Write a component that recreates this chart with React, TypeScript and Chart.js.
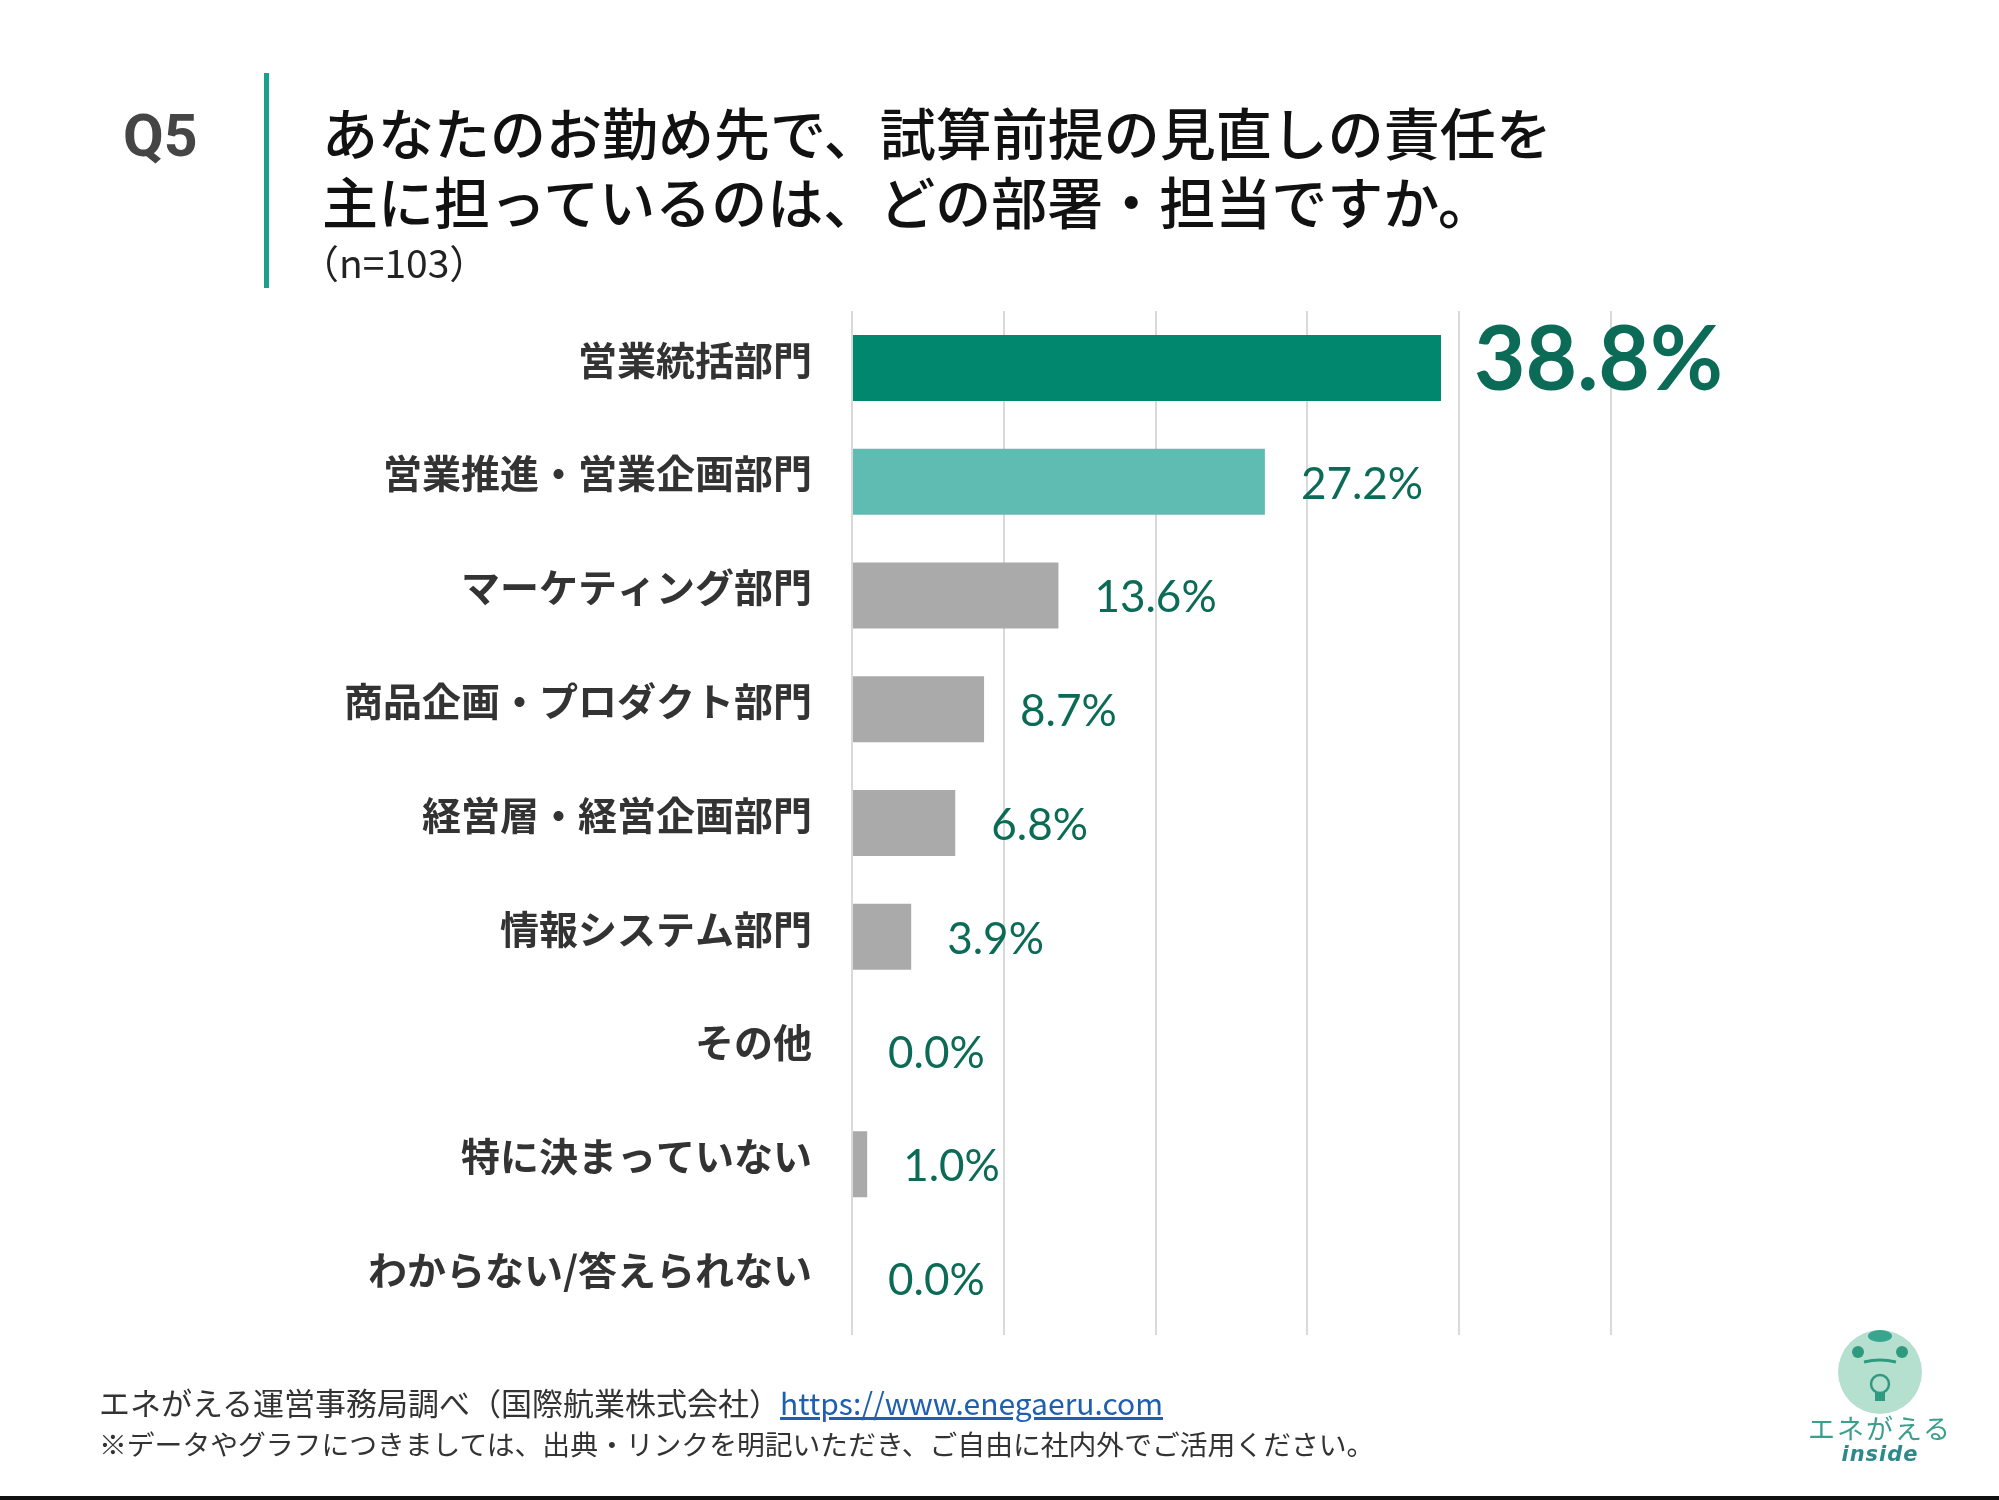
import React, { useEffect, useRef } from "react";
import { Chart, registerables } from "chart.js";

Chart.register(...registerables);

const categories = [
  "営業統括部門",
  "営業推進・営業企画部門",
  "マーケティング部門",
  "商品企画・プロダクト部門",
  "経営層・経営企画部門",
  "情報システム部門",
  "その他",
  "特に決まっていない",
  "わからない/答えられない",
];
const shares = [38.8, 27.2, 13.6, 8.7, 6.8, 3.9, 0.0, 1.0, 0.0];
const barColors = [
  "#02876f",
  "#5fbcb2",
  "#aaaaaa",
  "#aaaaaa",
  "#aaaaaa",
  "#aaaaaa",
  "#aaaaaa",
  "#aaaaaa",
  "#aaaaaa",
];
const axisMax = 50;
const axisStep = 10;

const titleLines = [
  "あなたのお勤め先で、試算前提の見直しの責任を",
  "主に担っているのは、どの部署・担当ですか。",
];
const sampleNote = "（n=103）";
const sourceText = "エネがえる運営事務局調べ（国際航業株式会社）";
const sourceUrl = "https://www.enegaeru.com";
const usageNote =
  "※データやグラフにつきましては、出典・リンクを明記いただき、ご自由に社内外でご活用ください。";

const W = 1999;
const H = 1500;
const CJK = '"Noto Sans CJK JP", "Noto Sans", sans-serif';
const VALUE_COLOR = "#0c6b56";

// percentage labels to the right of each bar; the first one is emphasised
const valueLabels = {
  id: "valueLabels",
  afterDatasetsDraw(chart: any) {
    const ctx = chart.ctx;
    const meta = chart.getDatasetMeta(0);
    ctx.save();
    ctx.fillStyle = VALUE_COLOR;
    ctx.textAlign = "left";
    ctx.textBaseline = "alphabetic";
    meta.data.forEach((bar: any, i: number) => {
      const text = shares[i].toFixed(1) + "%";
      if (i === 0) {
        ctx.font = 'bold 89px Lato, "Noto Sans", sans-serif';
        ctx.fillText(text, bar.x + 33, bar.y + 22);
      } else {
        ctx.font = '44px Lato, "Noto Sans", sans-serif';
        ctx.fillText(text, bar.x + 36, bar.y + 17);
      }
    });
    ctx.restore();
  },
};

function BarChart() {
  const ref = useRef<HTMLCanvasElement>(null);
  useEffect(() => {
    if (!ref.current) return;
    const chart = new Chart(ref.current, {
      type: "bar",
      data: {
        labels: categories,
        datasets: [
          {
            data: shares,
            backgroundColor: barColors,
            borderWidth: 0,
            barPercentage: 0.58,
            categoryPercentage: 1,
          },
        ],
      },
      options: {
        indexAxis: "y",
        animation: false,
        responsive: false,
        maintainAspectRatio: false,
        layout: { padding: { left: 0, top: 311, right: 388, bottom: 165 } },
        plugins: {
          legend: { display: false },
          tooltip: { enabled: false },
        },
        scales: {
          x: {
            min: 0,
            max: axisMax,
            ticks: { display: false, stepSize: axisStep },
            grid: { color: "#d9d9d9", lineWidth: 2, drawTicks: false },
            border: { display: false },
          },
          y: {
            afterFit(scale: any) {
              scale.width = 852;
            },
            ticks: {
              padding: 40,
              labelOffset: -8,
              color: "#333333",
              font: { family: CJK, size: 39, weight: "bold" },
            },
            grid: { display: false, drawTicks: false },
            border: { display: false },
          },
        },
      },
      plugins: [valueLabels],
    });
    return () => chart.destroy();
  }, []);
  return (
    <canvas
      ref={ref}
      width={W}
      height={H}
      style={{ position: "absolute", left: 0, top: 0, width: W, height: H }}
    />
  );
}

function Logo() {
  return (
    <div style={{ position: "absolute", left: 1800, top: 1322, width: 160, height: 150 }}>
      <svg width="160" height="100" viewBox="0 0 160 100" style={{ position: "absolute", left: 0, top: 0 }}>
        <circle cx="80" cy="50" r="42" fill="#b5e0d0" />
        <ellipse cx="80" cy="14" rx="12" ry="6" fill="#3aa58f" />
        <circle cx="58" cy="30" r="6" fill="#2f9a80" />
        <circle cx="102" cy="30" r="6" fill="#2f9a80" />
        <path d="M64 40 Q80 36 96 40" stroke="#2f9a80" strokeWidth="3" fill="none" />
        <circle cx="80" cy="62" r="9" fill="none" stroke="#2f9a80" strokeWidth="2.5" />
        <rect x="75" y="71" width="10" height="8" fill="#2f9a80" />
      </svg>
      <div
        style={{
          position: "absolute",
          top: 86,
          left: 0,
          width: 160,
          textAlign: "center",
          font: `27px ${CJK}`,
          color: "#3a9f8e",
          letterSpacing: 2,
        }}
      >
        エネがえる
      </div>
      <div
        style={{
          position: "absolute",
          top: 120,
          left: 0,
          width: 160,
          textAlign: "center",
          font: 'italic bold 21px "DejaVu Sans", sans-serif',
          color: "#2c8a8c",
          letterSpacing: 1,
        }}
      >
        inside
      </div>
    </div>
  );
}

export default function App() {
  return (
    <div
      style={{
        position: "absolute",
        left: 0,
        top: 0,
        width: W,
        height: H,
        background: "#ffffff",
        overflow: "hidden",
      }}
    >
      <BarChart />
      <div
        style={{
          position: "absolute",
          left: 123,
          top: 101,
          font: 'bold 59px Roboto, "Liberation Sans", sans-serif',
          color: "#454545",
          lineHeight: "70px",
        }}
      >
        Q5
      </div>
      <div
        style={{
          position: "absolute",
          left: 264,
          top: 73,
          width: 5,
          height: 215,
          background: "#1ba08c",
        }}
      />
      <div
        style={{
          position: "absolute",
          left: 322,
          top: 96,
          font: `500 56px ${CJK}`,
          color: "#111111",
          lineHeight: "69px",
          whiteSpace: "nowrap",
        }}
      >
        {titleLines.map((t) => (
          <div key={t}>{t}</div>
        ))}
      </div>
      <div
        style={{
          position: "absolute",
          left: 300,
          top: 238,
          font: `39px ${CJK}`,
          color: "#222222",
          lineHeight: "46px",
          whiteSpace: "nowrap",
        }}
      >
        {sampleNote}
      </div>
      <div
        style={{
          position: "absolute",
          left: 99,
          top: 1382,
          font: `31px ${CJK}`,
          color: "#333333",
          lineHeight: "40px",
          whiteSpace: "nowrap",
        }}
      >
        {sourceText}
        <span style={{ marginLeft: 0, fontSize: 30, color: "#1f5fb0", textDecoration: "underline" }}>{sourceUrl}</span>
      </div>
      <div
        style={{
          position: "absolute",
          left: 99,
          top: 1425,
          font: `27.8px ${CJK}`,
          color: "#333333",
          lineHeight: "36px",
          whiteSpace: "nowrap",
        }}
      >
        {usageNote}
      </div>
      <Logo />
      <div
        style={{
          position: "absolute",
          left: 0,
          top: 1496,
          width: W,
          height: 4,
          background: "#111111",
        }}
      />
    </div>
  );
}
